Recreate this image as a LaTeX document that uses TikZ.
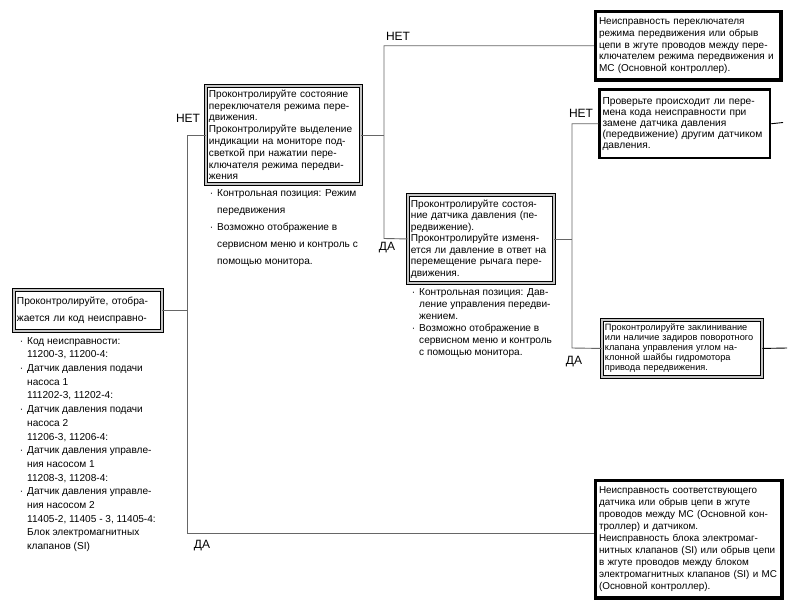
\documentclass[tikz,border=0pt]{standalone}
\usepackage{fontspec}
\setmainfont{Liberation Sans}
\usetikzlibrary{positioning}
\newcommand\notedot{\llap{\textperiodcentered\hspace{4pt}}}
\tikzset{
  chkbox/.style={draw, double=gray!45, double distance=1.5pt, line width=0.9pt,
    anchor=north west, align=left, inner xsep=3pt, inner ysep=2pt},
  fltbox/.style={draw, line width=3.5pt, anchor=north west, align=left, inner xsep=3.5pt, inner ysep=3pt},
  notes/.style={anchor=north west, align=left, inner sep=0pt},
  answer/.style={inner sep=0pt, font=\fontsize{12}{14}\selectfont},
  link/.style={draw=black!60, line width=0.9pt},
  exit/.style={draw=black, line width=0.9pt}
}
\begin{document}
\begin{tikzpicture}[x=1pt, y=-1pt]
  \useasboundingbox[fill=white] (0,0) rectangle (793,608);
  % check boxes
  \node at (13.5,289.5) [chkbox, text width=142pt, minimum height=41pt, font=\fontsize{10.2}{17}\selectfont] (code)
    {Проконтролируйте, отобра-\\жается ли код неисправно-};
  \node at (205.5,85.5) [chkbox, text width=149pt, minimum height=98pt, font=\fontsize{10.1}{11.8}\selectfont] (switch)
    {Проконтролируйте состояние\\переключателя режима пере-\\движения.\\Проконтролируйте выделение\\индикации на мониторе под-\\светкой при нажатии пере-\\ключателя режима передви-\\жения};
  \node at (407.5,194.5) [chkbox, text width=140pt, minimum height=88pt, font=\fontsize{10.1}{11.5}\selectfont] (sensor)
    {Проконтролируйте состоя-\\ние датчика давления (пе-\\редвижение).\\Проконтролируйте изменя-\\ется ли давление в ответ на\\перемещение рычага пере-\\движения.};
  \node at (601.5,319.5) [chkbox, text width=154pt, minimum height=57pt, font=\fontsize{9.2}{10}\selectfont] (valve)
    {Проконтролируйте заклинивание\\или наличие задиров поворотного\\клапана управления углом на-\\клонной шайбы гидромотора\\привода передвижения.};
  % fault boxes
  \node at (593.75,9.75) [fltbox, text width=178.5pt, minimum height=68.5pt, font=\fontsize{10}{11.8}\selectfont] (swfault)
    {Неисправность переключателя\\режима передвижения или обрыв\\цепи в жгуте проводов между пере-\\ключателем режима передвижения и\\МС (Основной контроллер).};
  \node at (598.25,88.25) [fltbox, line width=2.5pt, inner xsep=3pt, text width=164.5pt, minimum height=68.5pt, font=\fontsize{10.2}{11}\selectfont] (swap)
    {Проверьте происходит ли пере-\\мена кода неисправности при\\замене датчика давления\\(передвижение) другим датчиком\\давления.};
  \node at (593.75,478.75) [fltbox, text width=179.5pt, minimum height=117.5pt, font=\fontsize{9.9}{12}\selectfont] (fault)
    {Неисправность соответствующего\\датчика или обрыв цепи в жгуте\\проводов между МС (Основной кон-\\троллер) и датчиком.\\Неисправность блока электромаг-\\нитных клапанов (SI) или обрыв цепи\\в жгуте проводов между блоком\\электромагнитных клапанов (SI) и МС\\(Основной контроллер).};
  % notes under the boxes
  \node at (27,337) [notes, font=\fontsize{10.1}{13.7}\selectfont] (codenotes)
    {\notedot Код неисправности:\\11200-3, 11200-4:\\\notedot Датчик давления подачи\\насоса 1\\111202-3, 11202-4:\\\notedot Датчик давления подачи\\насоса 2\\11206-3, 11206-4:\\\notedot Датчик давления управле-\\ния насосом 1\\11208-3, 11208-4:\\\notedot Датчик давления управле-\\ния насосом 2\\11405-2, 11405 - 3, 11405-4:\\Блок электромагнитных\\клапанов (SI)};
  \node at (217,189) [notes, font=\fontsize{10.1}{17}\selectfont] (switchnotes)
    {\notedot Контрольная позиция: Режим\\передвижения\\\notedot Возможно отображение в\\сервисном меню и контроль с\\помощью монитора.};
  \node at (419,288) [notes, font=\fontsize{10.1}{12}\selectfont] (sensornotes)
    {\notedot Контрольная позиция: Дав-\\ление управления передви-\\жением.\\\notedot Возможно отображение в\\сервисном меню и контроль\\с помощью монитора.};
  % junctions
  \coordinate (ja) at (187,533);
  \coordinate (jb) at (384,238.5);
  \coordinate (jc) at (572,348);
  \coordinate (swapout) at (783,122.5);
  \coordinate (valveout) at (787,348);
  % connectors
  \draw[link] (code.east) -- (code.east -| ja);
  \draw[link] (switch.west) -| (ja) -- (ja -| fault.west);
  \draw[link] (switch.east) -- (switch.east -| jb);
  \draw[link] (swfault.west) -| (jb) -- (sensor.west);
  \draw[link] (sensor.east) -- (sensor.east -| jc);
  \draw[link] (swap.west) -| (jc) -- (valve.west);
  \draw[exit] (swap.east) -- (swapout);
  \draw[exit] (valve.east) -- (valveout);
  % answers
  \node at (188,118) [answer] (no1) {НЕТ};
  \node at (202,546) [answer] (yes1) {ДА};
  \node at (398,36) [answer] (no2) {НЕТ};
  \node at (387,248) [answer] (yes2) {ДА};
  \node at (581,113) [answer] (no3) {НЕТ};
  \node at (574,362) [answer] (yes3) {ДА};
\end{tikzpicture}
\end{document}
